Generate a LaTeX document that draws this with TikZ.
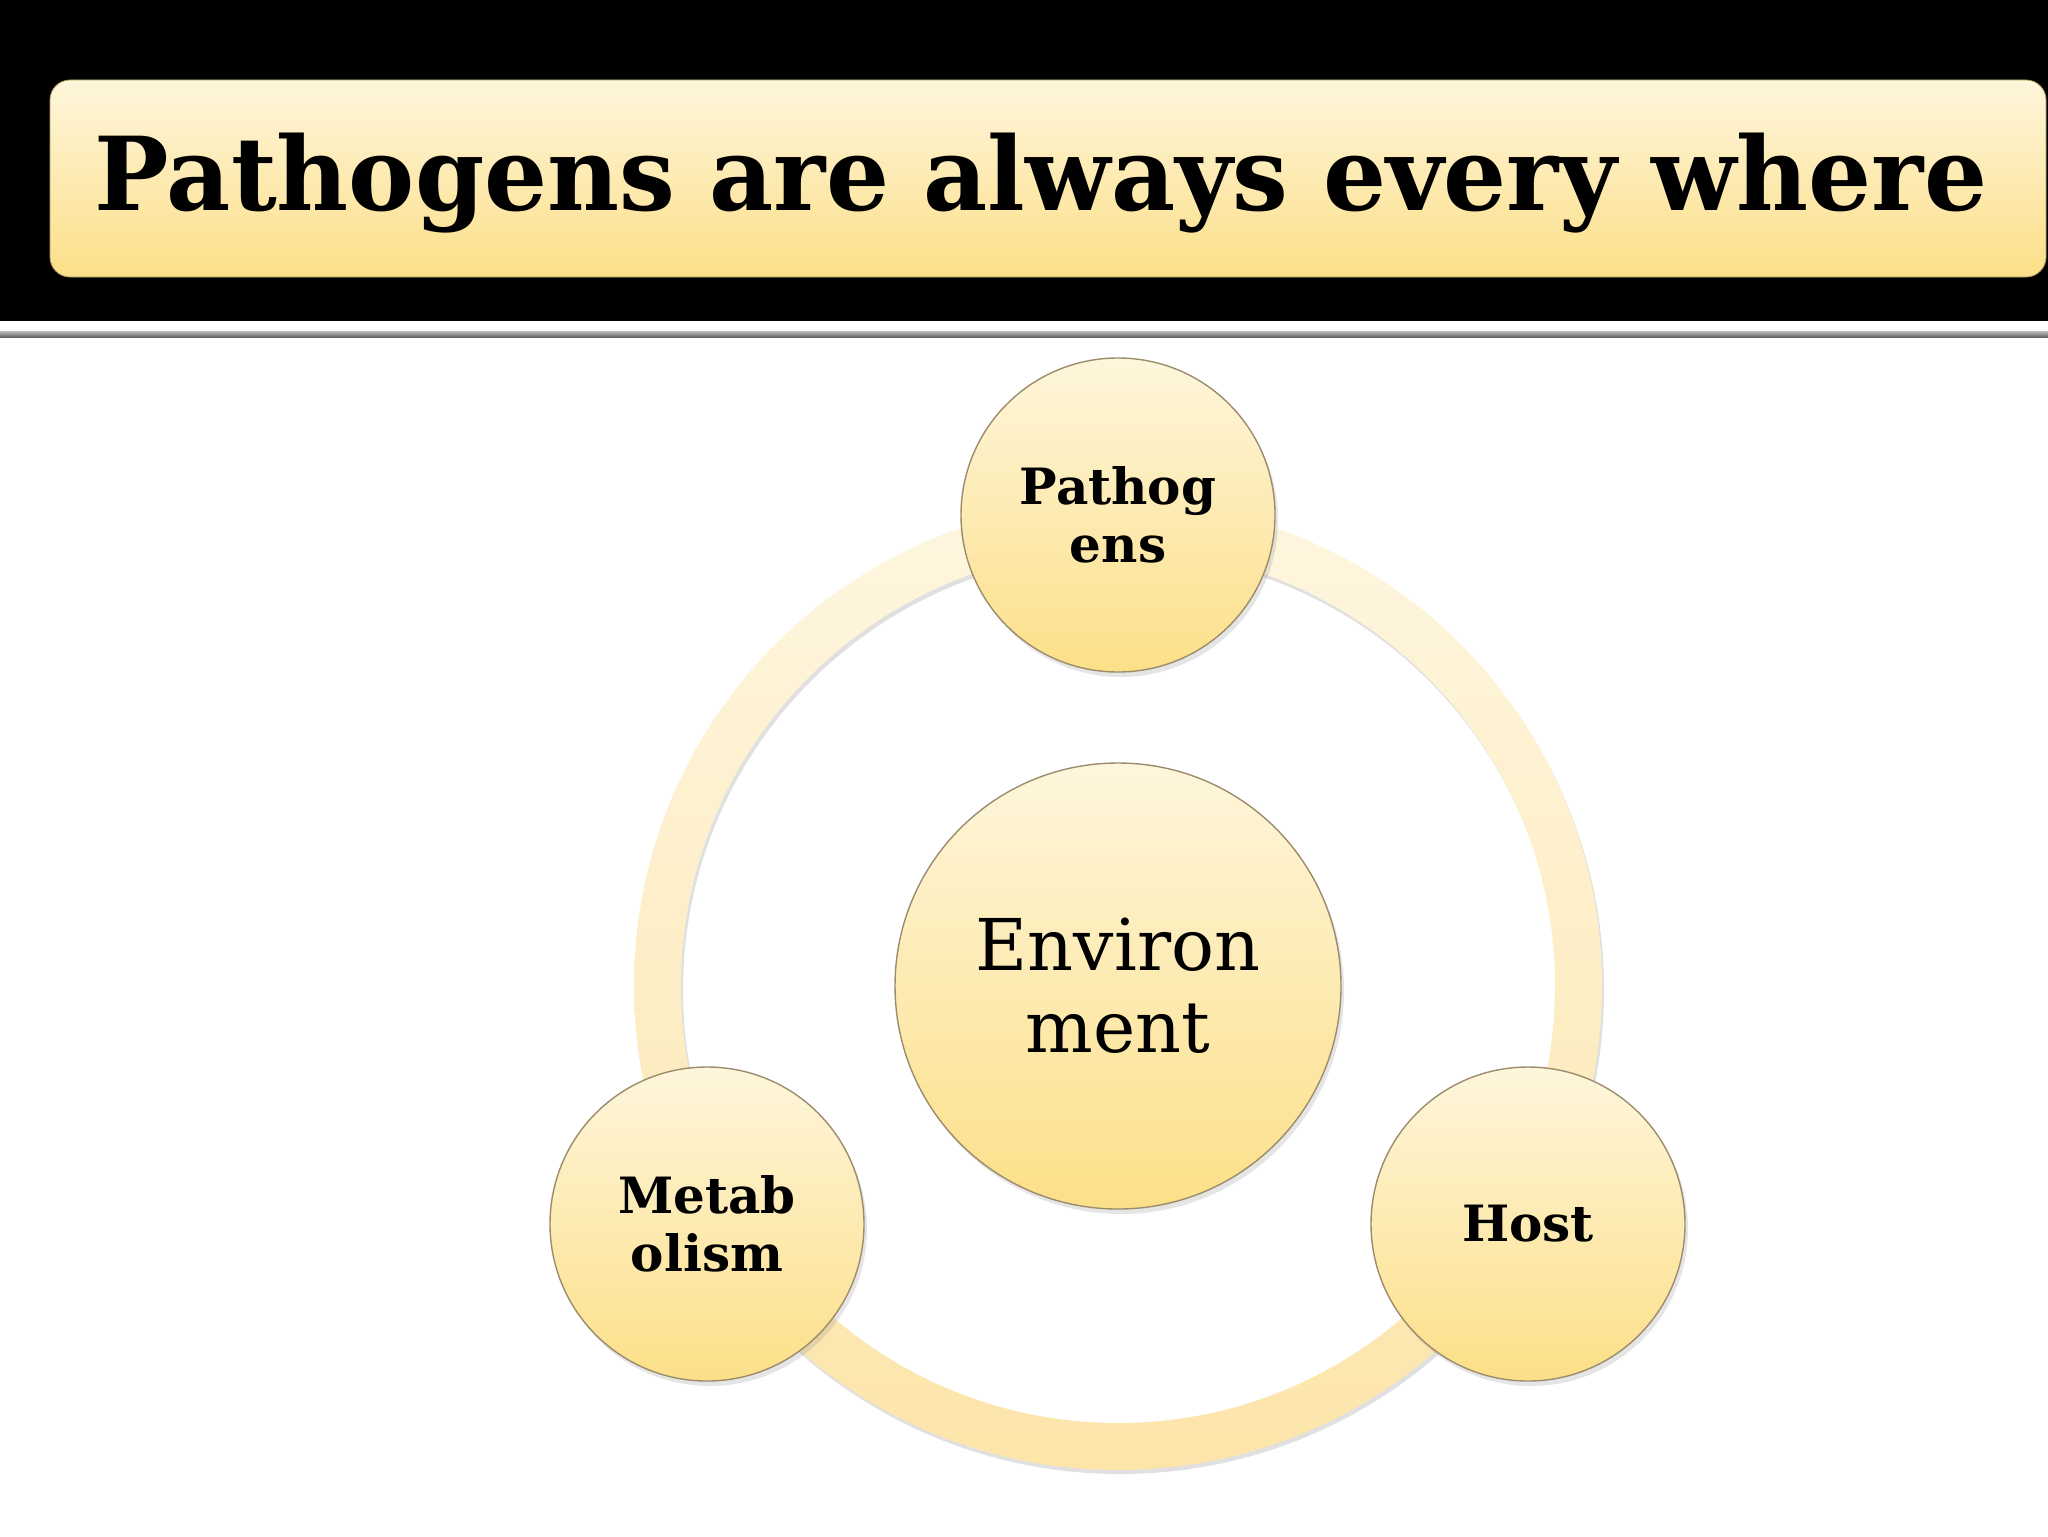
\documentclass[tikz,border=0pt]{standalone}
\usepackage{fontspec}
\setmainfont{DejaVu Serif}
\usetikzlibrary{shadows}
\definecolor{cTop}{HTML}{FEF6DC}
\definecolor{cBot}{HTML}{FCDF88}
\definecolor{ringTop}{HTML}{FEF6E0}
\definecolor{ringBot}{HTML}{FDE5AA}
\definecolor{edge}{HTML}{9C8C6C}
\begin{document}
\begin{tikzpicture}[x=0.5pt,y=-0.5pt,
  bubble/.style={circle, draw=edge, line width=0.7pt, top color=cTop, bottom color=cBot,
    inner sep=0pt, minimum size=157pt, align=center,
    font=\bfseries\fontsize{25}{29}\selectfont,
    drop shadow={opacity=0.2, shadow xshift=1.5pt, shadow yshift=-2.5pt}},
  titlebox/.style={rounded corners=10pt, top color=cTop, bottom color=cBot, draw=cBot!70!black, line width=0.4pt,
    minimum width=998pt, minimum height=98.5pt, inner sep=0pt},
  titletxt/.style={anchor=base, font=\bfseries\fontsize{51}{60}\selectfont, inner sep=0pt}
]
\useasboundingbox (0,0) rectangle (2048,1536);
\fill[white] (0,0) rectangle (2048,1536);
\fill[black] (0,0) rectangle (2048,321);
\shade[top color=black!25, bottom color=black!60] (0,331) rectangle (2048,337);
% title
\node[titlebox] (title) at (1048,178.5) {};
\node[titletxt] (titletext) at (1041,210) {\scalebox{0.972}[1]{Pathogens are always every where}};
% ring
\fill[black, opacity=0.12, even odd rule] (1120,990) circle[radius=242pt] (1120,990) circle[radius=218.5pt];
\path[even odd rule, top color=ringTop, bottom color=ringBot] (1118,986) circle[radius=242pt] (1118,986) circle[radius=218.5pt];
% circles
\node[bubble] (pat) at (1118,515) {Pathog\\ens};
\node[bubble, minimum size=223pt, font=\fontsize{35.7}{41}\selectfont] (env) at (1118,986) {Environ\\ment};
\node[bubble] (met) at (707,1224) {Metab\\olism};
\node[bubble] (host) at (1528,1224) {Host};
\end{tikzpicture}
\end{document}
